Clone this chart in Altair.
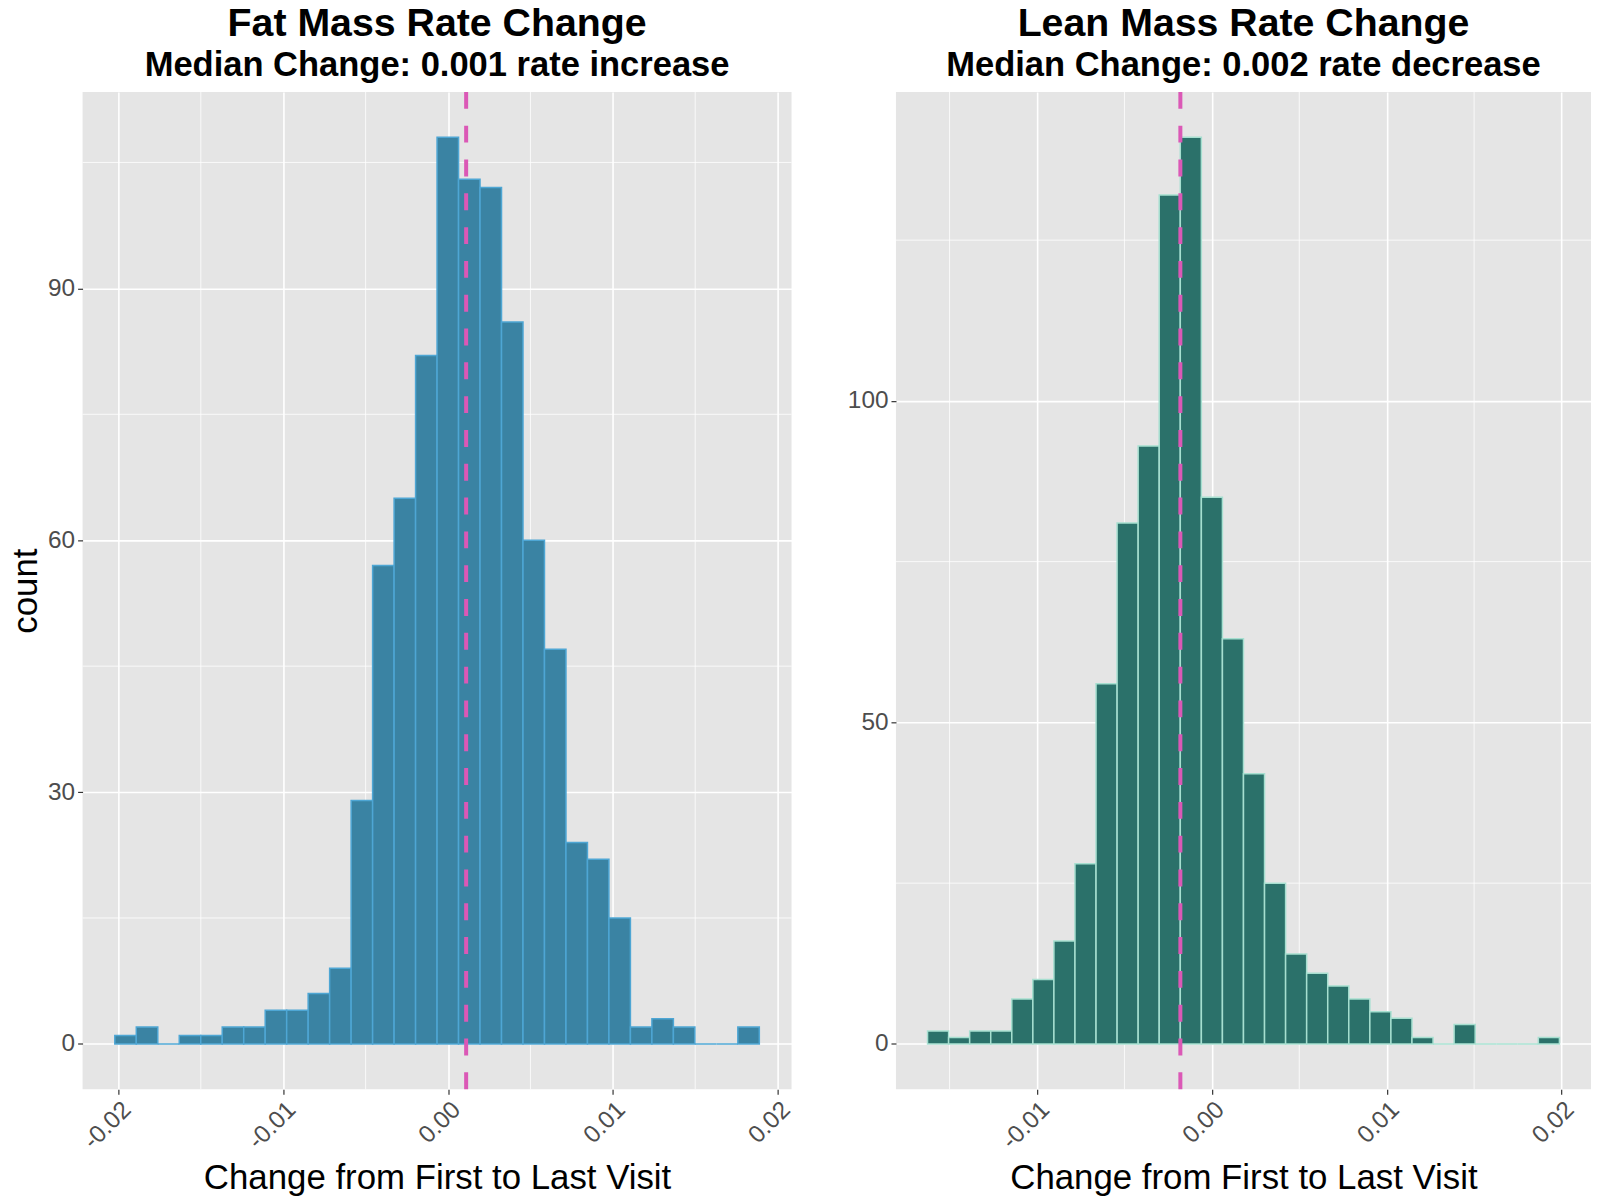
import altair as alt
import pandas as pd

# ---- data ----
fat_counts = [1, 2, 0, 1, 1, 2, 2, 4, 4, 6, 9, 29, 57, 65, 82, 108, 103, 102, 86, 60,
              47, 24, 22, 15, 2, 3, 2, 0, 0, 2]
fat_range = [-0.02022, 0.01889]          # outer edges of first / last bin
fat_median = 0.0011

lean_counts = [2, 1, 2, 2, 7, 10, 16, 28, 56, 81, 93, 132, 141, 85, 63, 42, 25, 14, 11, 9,
               7, 5, 4, 1, 0, 3, 0, 0, 0, 1]
lean_range = [-0.01626, 0.01988]
lean_median = -0.0018

fat_yticks = [0, 30, 60, 90]
fat_yminor = [15, 45, 75, 105]
lean_yticks = [0, 50, 100]
lean_yminor = [25, 75, 125]
fat_xticks = [-0.02, -0.01, 0.0, 0.01, 0.02]
lean_xticks = [-0.01, 0.0, 0.01, 0.02]
xminor = [-0.015, -0.005, 0.005, 0.015]

FONT = "Liberation Sans"
BG = "#E5E5E5"


def panel(counts, rng, median, fill, stroke, yticks, yminor, xticks,
          title, subtitle, width, show_ytitle):
    n = len(counts)
    w = (rng[1] - rng[0]) / n
    df = pd.DataFrame({
        "lo": [rng[0] + i * w for i in range(n)],
        "hi": [rng[0] + (i + 1) * w for i in range(n)],
        "count": counts,
        "zero": [0] * n,
    })
    xr = rng[1] - rng[0]
    ymax = max(counts)
    xs = alt.Scale(domain=[rng[0] - 0.05 * xr, rng[1] + 0.05 * xr], nice=False, zero=False)
    ys = alt.Scale(domain=[-0.05 * ymax, 1.05 * ymax], nice=False, zero=False)

    xaxis = alt.Axis(
        values=xticks,
        labelExpr="datum.value < 0 ? '-' + format(abs(datum.value), '.2f') : format(datum.value, '.2f')",
        labelAngle=315, labelAlign="right", labelBaseline="top",
        title="Change from First to Last Visit", grid=True, titlePadding=8,
    )
    if show_ytitle:
        yaxis = alt.Axis(values=yticks, title="count", grid=True, titlePadding=4)
    else:
        yaxis = alt.Axis(values=yticks, title=None, grid=True)

    hminor = alt.Chart(pd.DataFrame({"v": yminor})).mark_rule(
        color="white", strokeWidth=0.8
    ).encode(y=alt.Y("v:Q", scale=ys, axis=yaxis))
    vminor = alt.Chart(pd.DataFrame({"v": xminor})).mark_rule(
        color="white", strokeWidth=0.8
    ).encode(x=alt.X("v:Q", scale=xs, axis=xaxis))

    bars = alt.Chart(df).mark_rect(fill=fill, stroke=stroke, strokeWidth=1.5).encode(
        x=alt.X("lo:Q", scale=xs, axis=xaxis),
        x2="hi:Q",
        y=alt.Y("zero:Q", scale=ys, axis=yaxis),
        y2="count:Q",
    )
    med = alt.Chart(pd.DataFrame({"m": [median]})).mark_rule(
        color="#DB58B6", strokeWidth=4, strokeDash=[17, 17]
    ).encode(x=alt.X("m:Q", scale=xs, axis=xaxis))

    return alt.layer(hminor, vminor, bars, med).properties(
        width=width, height=1003,
        title=alt.TitleParams(
            text=title, subtitle=subtitle, anchor="middle",
            font=FONT, subtitleFont=FONT, fontSize=39.5, subtitleFontSize=34.7,
            fontWeight="bold", subtitleFontWeight="bold",
            color="black", subtitleColor="black", offset=6, subtitlePadding=5,
        ),
    )


left = panel(fat_counts, fat_range, fat_median, "#3A83A3", "#4EA6D4",
             fat_yticks, fat_yminor, fat_xticks,
             "Fat Mass Rate Change", "Median Change: 0.001 rate increase", 713, True)
right = panel(lean_counts, lean_range, lean_median, "#2B716A", "#A6DFD0",
              lean_yticks, lean_yminor, lean_xticks,
              "Lean Mass Rate Change", "Median Change: 0.002 rate decrease", 699, False)

chart = alt.hconcat(left, right, spacing=53).properties(
    padding={"left": 0, "top": -8, "right": 0, "bottom": 0}
).configure_view(fill=BG, strokeWidth=0).configure_axis(
    domain=False, tickColor="#333333", tickSize=5, tickWidth=1.2,
    labelColor="#4D4D4D", labelFontSize=24.5, labelFont=FONT, labelPadding=3,
    titleFont=FONT, titleFontSize=35, titleFontWeight="normal", titleColor="black",
    gridColor="white", gridWidth=1.6,
)

chart.save("out.html", embed_options={"renderer": "svg", "actions": False})
